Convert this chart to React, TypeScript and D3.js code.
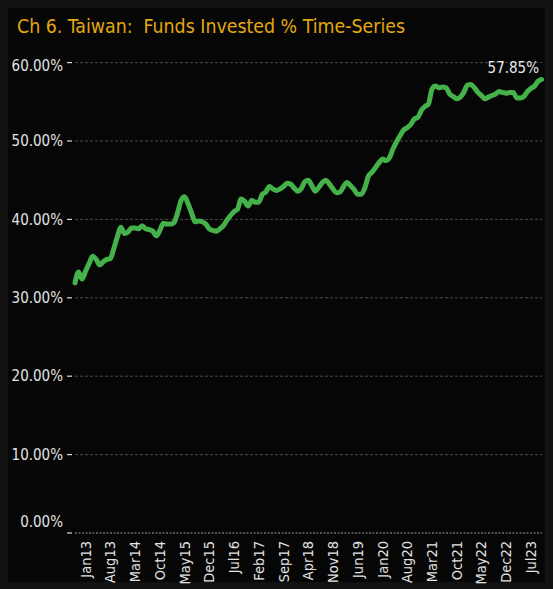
import React from "react";
import * as d3 from "d3";

const W = 553;
const H = 589;

const title = "Ch 6. Taiwan:  Funds Invested % Time-Series";

// Monthly values Oct12 .. Oct23 (% of funds invested)
const values: number[] = [
  31.9, 33.3, 32.4, 33.4, 34.4, 35.3, 34.9, 34.2, 34.6, 34.9,
  35.0, 36.3, 37.8, 39.0, 38.2, 38.4, 38.9, 38.9, 38.8, 39.2,
  38.8, 38.7, 38.5, 37.9, 38.6, 39.5, 39.4, 39.4, 39.6, 40.8,
  42.4, 42.9, 42.0, 40.8, 39.7, 39.8, 39.7, 39.4, 38.8, 38.6,
  38.5, 38.8, 39.2, 39.9, 40.5, 41.0, 41.3, 42.6, 42.3, 41.7,
  42.4, 42.2, 42.2, 43.2, 43.5, 44.2, 43.9, 43.7, 43.9, 44.2,
  44.6, 44.5, 44.0, 43.6, 43.9, 44.8, 45.0, 44.3, 43.6, 44.1,
  44.7, 45.0, 44.5, 43.9, 43.4, 43.5, 44.2, 44.7, 44.3, 43.8,
  43.2, 43.2, 44.0, 45.5, 46.0, 46.6, 47.2, 47.7, 47.5, 47.9,
  49.0, 49.9, 50.7, 51.4, 51.7, 52.1, 52.8, 53.0, 53.9, 54.4,
  54.7, 56.6, 57.0, 56.8, 56.9, 56.8, 56.0, 55.7, 55.4, 55.6,
  56.2, 57.1, 57.2, 56.8, 56.2, 55.8, 55.4, 55.6, 55.8, 56.0,
  56.3, 56.2, 56.1, 56.2, 56.2, 55.5, 55.5, 55.7, 56.3, 56.7,
  57.0, 57.6, 57.85,
];

// x tick labels and the month index (from Oct12) they sit on
const tickLabels: string[] = [
  "Jan13", "Aug13", "Mar14", "Oct14", "May15", "Dec15", "Jul16", "Feb17",
  "Sep17", "Apr18", "Nov18", "Jun19", "Jan20", "Aug20", "Mar21", "Oct21",
  "May22", "Dec22", "Jul23",
];
const tickIndex: number[] = tickLabels.map((_, k) => 3 + 7 * k);

const yTicks: number[] = [0, 10, 20, 30, 40, 50, 60];
const lastLabel = "57.85%";

const FONT = "'Liberation Sans Narrow', 'DejaVu Sans Condensed', 'Roboto Condensed', Roboto, sans-serif";

export default function App() {
  const x = d3
    .scaleLinear()
    .domain([0, values.length - 1])
    .range([75, 541.5]);
  const y = d3.scaleLinear().domain([0, 60]).range([533, 62.6]);

  const line = d3
    .line<number>()
    .x((_, i) => x(i))
    .y((d) => y(d))
    .curve(d3.curveMonotoneX);

  return (
    <svg
      width={W}
      height={H}
      style={{ position: "absolute", left: 0, top: 0, display: "block" }}
    >
      <rect x={0} y={0} width={W} height={H} fill="#121212" />
      <rect x={8} y={8} width={537} height={574} fill="#060606" />
      <text
        x={17}
        y={33}
        fill="#e3a812"
        fontFamily={FONT}
        fontSize={19}
        textLength={388}
        lengthAdjust="spacingAndGlyphs"
        style={{ whiteSpace: "pre" }}
      >
        {title}
      </text>

      {/* gridlines */}
      {yTicks.map((t) => (
        <g key={t}>
          <line
            x1={75}
            x2={542}
            y1={y(t)}
            y2={y(t)}
            stroke={t === 0 ? "#9a9a9a" : "#4a4a4a"}
            strokeWidth={1}
            strokeDasharray={t === 0 ? "2,1.5" : "3,2"}
          />
          <line
            x1={67}
            x2={72}
            y1={y(t)}
            y2={y(t)}
            stroke="#d8d8d8"
            strokeWidth={1.2}
          />
          <text
            x={63}
            y={t === 0 ? y(t) - 11 : t === 60 ? y(t) + 3 : y(t)}
            dy="0.35em"
            textAnchor="end"
            fill="#e2e2e2"
            fontFamily={FONT}
            fontSize={15}
          >
            {t.toFixed(2) + "%"}
          </text>
        </g>
      ))}

      {/* x labels */}
      {tickLabels.map((lab, k) => (
        <text
          key={lab}
          transform={`translate(${x(tickIndex[k])},541) rotate(-90)`}
          dy="0.35em"
          textAnchor="end"
          fill="#e2e2e2"
          fontFamily={FONT}
          fontSize={14.5}
        >
          {lab}
        </text>
      ))}

      <path
        d={line(values) || ""}
        fill="none"
        stroke="#44b14b"
        strokeWidth={5}
        strokeLinejoin="round"
        strokeLinecap="round"
      />

      <text
        x={539}
        y={68}
        dy="0.35em"
        textAnchor="end"
        fill="#e8e8e8"
        fontFamily={FONT}
        fontSize={15}
      >
        {lastLabel}
      </text>
    </svg>
  );
}
